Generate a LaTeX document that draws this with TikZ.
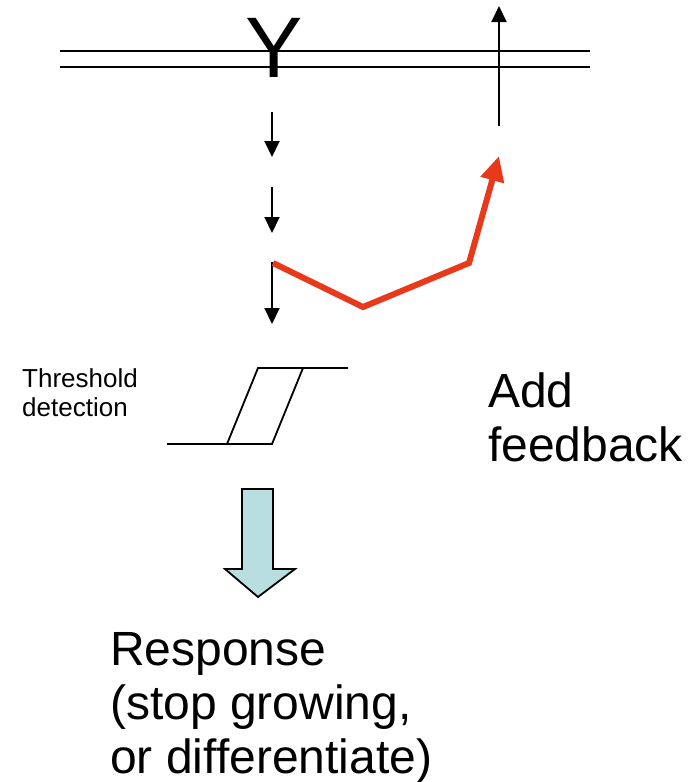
\documentclass[tikz,border=0pt]{standalone}
\usepackage{fontspec}
\setmainfont{Liberation Sans}
\usetikzlibrary{arrows.meta}
\definecolor{fbred}{HTML}{E8391A}
\definecolor{respfill}{HTML}{B9DEE0}
\tikzset{
  membrane/.style={line width=2pt},
  signal/.style={line width=2pt,-{Triangle[width=15pt,length=16pt]}},
  feedback/.style={line width=6pt,fbred,-{Triangle[width=23pt,length=25pt]}},
  curve/.style={line width=1.8pt},
  label/.style={inner sep=0pt,align=left,anchor=north west}
}
\begin{document}
\begin{tikzpicture}[x=1pt,y=-1pt]
\useasboundingbox (0,0) rectangle (694,782);

% cell membrane
\draw[membrane] (60,51) -- (590,51);
\draw[membrane] (60,67) -- (590,67);

% receptor
\node[inner sep=0pt,anchor=base,font=\fontsize{86}{86}\selectfont] (rec) at (274,77) {Y};

% outgoing signal
\coordinate (upS) at (499,126);
\coordinate (upE) at (499,6);
\draw[signal] (upS) -- (upE);

% signalling cascade
\coordinate (d1s) at (272,112); \coordinate (d1e) at (272,157);
\coordinate (d2s) at (272,187); \coordinate (d2e) at (272,233);
\coordinate (d3s) at (272,262); \coordinate (d3e) at (272,324);
\draw[signal] (d1s) -- (d1e);
\draw[signal] (d2s) -- (d2e);
\draw[signal] (d3s) -- (d3e);

% feedback loop
\coordinate (f1) at (273,263);
\coordinate (f2) at (363,307);
\coordinate (f3) at (469,263);
\coordinate (f4) at (499,156);
\draw[feedback] (f1) -- (f2) -- (f3) -- (f4);

% hysteresis (threshold detection)
\coordinate (h1) at (167,444);
\coordinate (h2) at (227,444);
\coordinate (h3) at (258,368);
\coordinate (h4) at (348,368);
\coordinate (h5) at (303,368);
\coordinate (h6) at (272,444);
\draw[curve] (h1) -- (h6) -- (h5);
\draw[curve] (h2) -- (h3) -- (h4);

\node[label,font=\fontsize{26}{29}\selectfont] (thr) at (22,368) {Threshold\\detection};
\node[label,font=\fontsize{48}{54}\selectfont] (add) at (488,373) {Add\\feedback};

% response arrow
\draw[line width=1.8pt,fill=respfill,line join=miter]
  (242,489) -- (273,489) -- (273,569) -- (295,569) -- (258,597)
  -- (225,569) -- (242,569) -- cycle;
\node[label,font=\fontsize{48}{54}\selectfont] (resp) at (110,632)
  {Response\\(stop growing,\\or differentiate)};
\end{tikzpicture}
\end{document}
